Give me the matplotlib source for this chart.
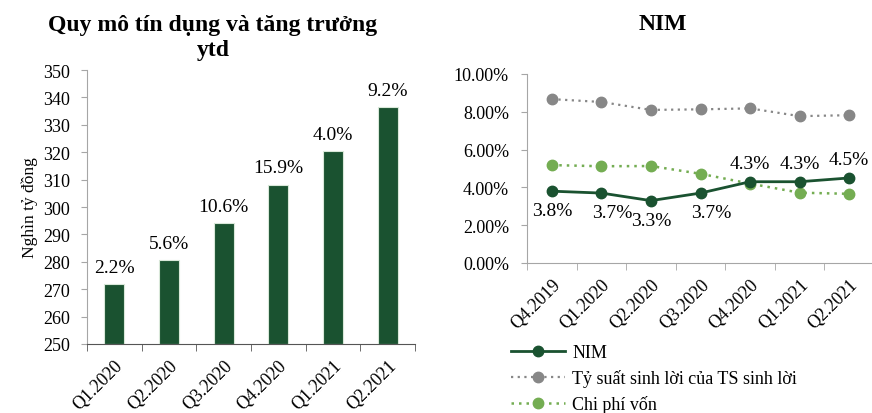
import numpy as np
import matplotlib.pyplot as plt

plt.rcParams['font.family'] = ['Liberation Serif', 'DejaVu Serif']

# left chart data
quarters = ['Q1.2020', 'Q2.2020', 'Q3.2020', 'Q4.2020', 'Q1.2021', 'Q2.2021']
credit = [272.0, 280.6, 294.1, 308.2, 320.4, 336.4]
growth = ['2.2%', '5.6%', '10.6%', '15.9%', '4.0%', '9.2%']

# right chart data
nim_quarters = ['Q4.2019', 'Q1.2020', 'Q2.2020', 'Q3.2020', 'Q4.2020', 'Q1.2021', 'Q2.2021']
nim = [3.8, 3.7, 3.3, 3.7, 4.3, 4.3, 4.5]
yield_ts = [8.67, 8.52, 8.1, 8.13, 8.18, 7.77, 7.82]
cost = [5.18, 5.12, 5.13, 4.72, 4.2, 3.72, 3.66]

dark = '#1a5230'
grey = '#878787'
light = '#74ad52'
spine_c = '#a6a6a6'
fs = 13

fig = plt.figure(figsize=(8.72, 4.14), dpi=100)

# ---- left: credit bars
ax1 = fig.add_axes([87/872, 69/414, 328/872, 274/414])
x = np.arange(len(quarters))
ax1.bar(x, np.array(credit) - 250, bottom=250, width=0.37, color=dark,
        edgecolor='#d9e8d9', linewidth=0.8, zorder=2)
for i, v in enumerate(credit):
    ax1.text(i, v + 3, growth[i], ha='center', va='bottom', fontsize=14)
ax1.set_ylim(250, 350)
ax1.set_xlim(-0.5, len(quarters) - 0.5)
ax1.set_yticks(range(250, 351, 10))
ax1.set_xticks(x)
ax1.set_xticklabels(quarters, rotation=45, ha='right', rotation_mode='anchor', fontsize=fs)
ax1.set_xticks(np.arange(-0.5, len(quarters)), minor=True)
ax1.tick_params(axis='x', which='major', length=0, pad=9)
ax1.tick_params(axis='x', which='minor', length=5, color='#555555', direction='out')
ax1.tick_params(axis='y', labelsize=fs, length=4, color=spine_c, pad=8)
ax1.set_ylabel('Nghìn tỷ đồng', fontsize=12.5, labelpad=4)
for s in ['top', 'right']:
    ax1.spines[s].set_visible(False)
ax1.spines['left'].set_color(spine_c)
ax1.spines['bottom'].set_color('#555555')
fig.text(213/872, 1 - 38/414, 'Quy mô tín dụng và tăng trưởng\nytd', fontsize=17,
         fontweight='bold', ha='center', va='center', linespacing=1.25)

# ---- right: NIM lines
ax2 = fig.add_axes([527/872, 150/414, 347/872, 189/414])
xs = np.arange(len(nim_quarters))
ax2.plot(xs, nim, color=dark, lw=2, marker='o', ms=7.5, label='NIM', zorder=4)
ax2.plot(xs, yield_ts, color=grey, lw=1.6, ls=(0, (1, 2)), marker='o', ms=7.5,
         label='Tỷ suất sinh lời của TS sinh lời', zorder=3)
ax2.plot(xs, cost, color=light, lw=1.8, ls=(0, (1, 2)), marker='o', ms=7.5,
         label='Chi phí vốn', zorder=3)
for i, v in enumerate(nim):
    if i < 4:
        ax2.annotate(f'{v:.1f}%', (i, v), xytext=(8 if i in (1, 3) else 0, -8),
                     textcoords='offset points', ha='center', va='top', fontsize=14)
    else:
        ax2.annotate(f'{v:.1f}%', (i, v), xytext=(0, 7),
                     textcoords='offset points', ha='center', va='bottom', fontsize=14)
ax2.set_ylim(0, 10)
ax2.set_xlim(-0.5, len(nim_quarters) - 0.5)
ax2.set_yticks(range(0, 11, 2))
ax2.set_yticklabels([f'{t:.2f}%' for t in range(0, 11, 2)])
ax2.set_xticks(xs)
ax2.set_xticklabels(nim_quarters, rotation=45, ha='right', rotation_mode='anchor', fontsize=fs)
ax2.set_xticks(np.arange(-0.5, len(nim_quarters)), minor=True)
ax2.tick_params(axis='x', which='major', length=0, pad=9)
ax2.tick_params(axis='x', which='minor', length=5, color=spine_c, direction='out')
ax2.tick_params(axis='y', labelsize=fs, length=4, color=spine_c, pad=9)
for s in ['top', 'right']:
    ax2.spines[s].set_visible(False)
ax2.spines['left'].set_color(spine_c)
ax2.spines['bottom'].set_color(spine_c)
fig.text(663/872, 1 - 25/414, 'NIM', fontsize=17, fontweight='bold', ha='center', va='center')

fig.legend(handles=ax2.get_lines(), loc='upper left', bbox_to_anchor=(511/872, 1 - 345/414),
           frameon=False, fontsize=fs, handlelength=3.0, handletextpad=0.4,
           labelspacing=0.45, borderpad=0, borderaxespad=0)

fig.savefig('out.png', dpi=100)
